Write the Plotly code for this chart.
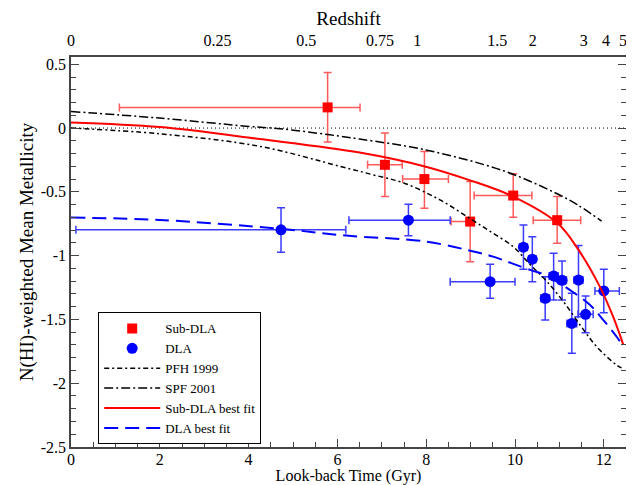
import plotly.graph_objects as go

# ---------------- data ----------------
# Sub-DLA points
sub_x = [5.78, 7.07, 7.96, 8.99, 9.96, 10.95]
sub_y = [0.162, -0.288, -0.400, -0.733, -0.529, -0.722]
sub_xerr_minus = [4.69, 0.39, 0.49, 0.43, 0.88, 0.54]
sub_xerr_plus = [0.73, 0.39, 0.54, 0.02, 0.42, 0.53]
sub_yerr_plus = [0.274, 0.249, 0.216, 0.314, 0.170, 0.185]
sub_yerr_minus = [0.272, 0.249, 0.228, 0.314, 0.170, 0.181]

# DLA points
dla_x = [4.73, 7.60, 9.44, 10.19, 10.39, 10.68, 10.87, 11.06, 11.28, 11.43, 11.59, 12.00]
dla_y = [-0.798, -0.722, -1.204, -0.934, -1.028, -1.334, -1.159, -1.193, -1.531, -1.191, -1.460, -1.277]
dla_xerr_minus = [4.62, 1.34, 0.90, 0.09, 0.08, 0.10, 0.10, 0.10, 0.11, 0.10, 0.17, 0.20]
dla_xerr_plus = [1.46, 0.94, 0.56, 0.09, 0.08, 0.10, 0.10, 0.10, 0.11, 0.10, 0.17, 0.35]
dla_yerr_plus = [0.173, 0.125, 0.136, 0.175, 0.177, 0.169, 0.178, 0.151, 0.236, 0.270, 0.144, 0.170]
dla_yerr_minus = [0.175, 0.123, 0.130, 0.173, 0.176, 0.171, 0.189, 0.155, 0.235, 0.288, 0.144, 0.170]

# Model curves
pfh_x = [0, 2, 4.26, 6.06, 6.81, 7.49, 8.31, 8.99, 9.44, 9.96, 10.34, 10.71, 11.09, 11.5, 11.84, 12.29, 12.4]
pfh_y = [0, -0.045, -0.144, -0.30, -0.367, -0.43, -0.563, -0.71, -0.81, -0.93, -1.07, -1.2, -1.36, -1.56, -1.714, -1.858, -1.88]

spf_x = [0, 2, 4, 4.7, 5.83, 6.5, 7.97, 9.74, 10.86, 11.4, 11.95]
spf_y = [0.13, 0.078, 0.013, -0.005, -0.053, -0.086, -0.17, -0.335, -0.50, -0.60, -0.73]

subfit_x = [0, 2, 4.26, 6.5, 7.97, 8.99, 9.96, 10.95, 11.43, 11.91, 12.21, 12.44]
subfit_y = [0.044, 0.008, -0.086, -0.192, -0.301, -0.41, -0.537, -0.743, -0.955, -1.243, -1.479, -1.70]

dlafit_x = [0, 2, 4.73, 6.2, 8, 9.21, 9.51, 10.34, 10.68, 10.94, 11.24, 11.69, 11.99, 12.29, 12.44]
dlafit_y = [-0.702, -0.72, -0.79, -0.843, -0.89, -0.98, -1.008, -1.112, -1.15, -1.204, -1.27, -1.387, -1.505, -1.636, -1.714]

# Top axis: redshift labels at their look-back times
z_labels = ["0", "0.25", "0.5", "0.75", "1", "1.5", "2", "3", "4", "5"]
z_lookback = [0, 3.3, 5.3, 6.96, 7.8, 9.6, 10.4, 11.55, 12.05, 12.43]

x_ticks = [0, 2, 4, 6, 8, 10, 12]
y_ticks = [0.5, 0, -0.5, -1, -1.5, -2, -2.5]
y_ticklabels = ["0.5", "0", "-0.5", "-1", "-1.5", "-2", "-2.5"]

FONT = "Liberation Serif"

fig = go.Figure()

# reference line at zero
fig.add_trace(go.Scatter(x=[0, 12.5], y=[0, 0], mode="lines",
                         line=dict(color="black", width=1, dash="1px,3px"),
                         showlegend=False, hoverinfo="skip"))

fig.add_trace(go.Scatter(
    x=sub_x, y=sub_y, mode="markers", name="Sub-DLA",
    marker=dict(symbol="square", size=10, color="#ff0000"),
    error_x=dict(type="data", symmetric=False, array=sub_xerr_plus, arrayminus=sub_xerr_minus,
                 color="#ff5a5a", thickness=1.5, width=4),
    error_y=dict(type="data", symmetric=False, array=sub_yerr_plus, arrayminus=sub_yerr_minus,
                 color="#ff5a5a", thickness=1.5, width=4),
))

fig.add_trace(go.Scatter(
    x=dla_x, y=dla_y, mode="markers", name="DLA",
    marker=dict(symbol="circle", size=11, color="#0000ff"),
    error_x=dict(type="data", symmetric=False, array=dla_xerr_plus, arrayminus=dla_xerr_minus,
                 color="#3c3cff", thickness=1.5, width=4),
    error_y=dict(type="data", symmetric=False, array=dla_yerr_plus, arrayminus=dla_yerr_minus,
                 color="#3c3cff", thickness=1.5, width=4),
))

fig.add_trace(go.Scatter(x=pfh_x, y=pfh_y, mode="lines", name="PFH 1999",
                         line=dict(color="black", width=1.5, dash="5px,3px,2px,3px", shape="spline")))
fig.add_trace(go.Scatter(x=spf_x, y=spf_y, mode="lines", name="SPF 2001",
                         line=dict(color="black", width=1.5, dash="9px,3px,2px,3px", shape="spline")))
fig.add_trace(go.Scatter(x=subfit_x, y=subfit_y, mode="lines", name="Sub-DLA best fit",
                         line=dict(color="#ff0000", width=2, shape="spline")))
fig.add_trace(go.Scatter(x=dlafit_x, y=dlafit_y, mode="lines", name="DLA best fit",
                         line=dict(color="#0000ff", width=2, dash="14px,7px", shape="spline")))

# invisible trace for top axis
fig.add_trace(go.Scatter(x=[0], y=[0], xaxis="x2", mode="markers",
                         marker=dict(opacity=0), showlegend=False, hoverinfo="skip"))

# The page body adds an 8px margin, so the figure is sized to fit the window.
fig.update_layout(
    width=626, height=477,
    margin=dict(l=63, r=8, t=49, b=38),
    paper_bgcolor="white", plot_bgcolor="white",
    font=dict(family=FONT, size=16, color="black"),
    showlegend=True,
    legend=dict(x=0.049, y=0.345, xanchor="left", yanchor="top",
                bordercolor="black", borderwidth=1, bgcolor="white",
                font=dict(family=FONT, size=13), tracegroupgap=0, itemwidth=56),
    xaxis=dict(range=[0, 12.5], tickvals=x_ticks, ticks="inside", ticklen=8, tickwidth=1,
               showline=True, linecolor="#444", linewidth=1.5, mirror=True,
               showgrid=False, zeroline=False, automargin=False,
               minor=dict(dtick=0.5, ticks="inside", ticklen=5, tickwidth=1, showgrid=False),
               title=dict(text="Look-back Time (Gyr)", standoff=11, font=dict(size=16)),
               ticklabelstandoff=-3,
               tickfont=dict(size=16)),
    xaxis2=dict(range=[0, 12.5], overlaying="x", side="top", tickvals=z_lookback, ticktext=z_labels,
                ticks="", showline=False, showgrid=False, zeroline=False, automargin=False,
                ticklabelstandoff=7,
                title=dict(text="Redshift", standoff=3), tickfont=dict(size=16)),
    yaxis=dict(range=[-2.5, 0.557], tickvals=y_ticks, ticktext=y_ticklabels,
               ticks="inside", ticklen=8, tickwidth=1,
               showline=True, linecolor="#444", linewidth=1.5, mirror="ticks",
               showgrid=False, zeroline=False, automargin=False,
               minor=dict(dtick=0.1, ticks="inside", ticklen=5, tickwidth=1, showgrid=False),
               title=dict(text="N(HI)-weighted Mean Metallicity", standoff=2),
               tickfont=dict(size=16)),
)

fig.write_html("out.html")
